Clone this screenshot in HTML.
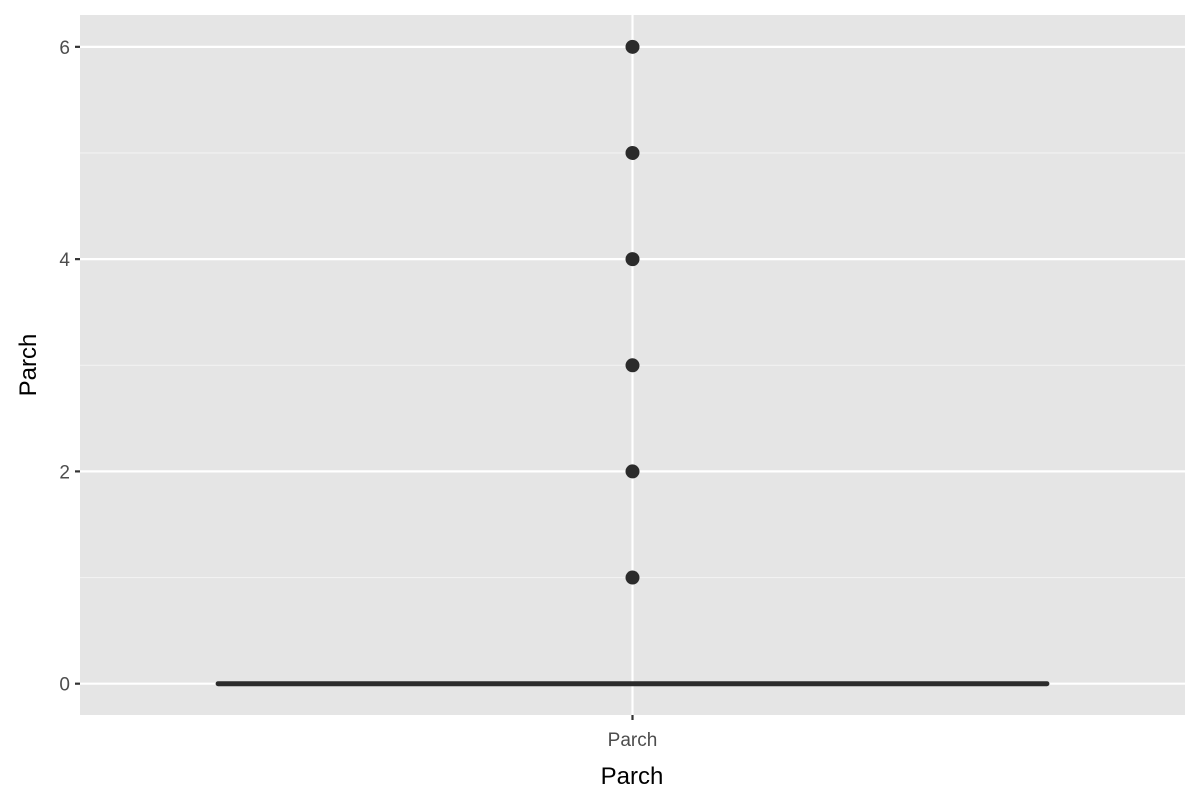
<!DOCTYPE html>
<html><head><meta charset="utf-8"><style>
body{margin:0;background:#fff;}
svg{display:block;font-family:"Liberation Sans",sans-serif;}
</style></head><body>
<svg id="chart" width="1200" height="800"></svg>
<script>
const categories = ["Parch"];
const quartiles = [[0,0,0,0,0]]; // min,q1,median,q3,max
const outliers = [[1,2,3,4,5,6]];
const yTicks = [0,2,4,6];
const yMinor = [1,3,5];

const NS="http://www.w3.org/2000/svg";
const svg=document.getElementById('chart');
const P={l:80,r:1185,t:15,b:715};
const yMin=-0.295,yMax=6.3;
function y(v){return P.b-(v-yMin)/(yMax-yMin)*(P.b-P.t);}
const xLo=0.4,xHi=1.6;
function x(i){return P.l+((i+1)-xLo)/(xHi-xLo)*(P.r-P.l);}
const unit=(P.r-P.l)/(xHi-xLo);
function mk(t,a,name){const e=document.createElementNS(NS,t);for(const k in a)e.setAttribute(k,a[k]);


svg.appendChild(e);return e;}
mk('rect',{x:P.l,y:P.t,width:P.r-P.l,height:P.b-P.t,fill:'#e5e5e5'},'panel-background');
yMinor.forEach(v=>mk('line',{x1:P.l,x2:P.r,y1:y(v),y2:y(v),stroke:'#f2f2f2','stroke-width':1.1},'minor-gridline'));
yTicks.forEach(v=>{
 mk('line',{x1:P.l,x2:P.r,y1:y(v),y2:y(v),stroke:'#fff','stroke-width':2.2},'major-gridline');
 mk('line',{x1:P.l-5,x2:P.l,y1:y(v),y2:y(v),stroke:'#333','stroke-width':2.2},'y-tick');
 const t=mk('text',{x:P.l-10,y:y(v)+7,'text-anchor':'end','font-size':19,fill:'#4d4d4d'},'y-tick-label');t.textContent=v;
});
categories.forEach((c,i)=>{
 const cx=x(i);
 mk('line',{x1:cx,x2:cx,y1:P.t,y2:P.b,stroke:'#fff','stroke-width':2.2},'x-gridline');
 mk('line',{x1:cx,x2:cx,y1:P.b,y2:P.b+5,stroke:'#333','stroke-width':2.2},'x-tick');
 const t=mk('text',{x:cx,y:746,'text-anchor':'middle','font-size':19,fill:'#4d4d4d'},'x-tick-label');t.textContent=c;
 const q=quartiles[i];const hw=unit*0.45;
 mk('line',{x1:cx,x2:cx,y1:y(q[0]),y2:y(q[1]),stroke:'#333','stroke-width':2},'whisker-low');
 mk('line',{x1:cx,x2:cx,y1:y(q[3]),y2:y(q[4]),stroke:'#333','stroke-width':2},'whisker-high');
 mk('rect',{x:cx-hw,y:y(q[3]),width:2*hw,height:Math.max(0,y(q[1])-y(q[3])),fill:'#fff',stroke:'#333','stroke-width':2},'box');
 mk('line',{x1:cx-hw,x2:cx+hw,y1:y(q[2]),y2:y(q[2]),stroke:'#2b2b2b','stroke-width':5,'stroke-linecap':'round'},'median-line');
 outliers[i].forEach(o=>mk('circle',{cx:cx,cy:y(o),r:7,fill:'#2b2b2b'},'outlier-point'));
});
let t=mk('text',{x:632,y:784,'text-anchor':'middle','font-size':24,fill:'#000'},'x-axis-title');t.textContent='Parch';
t=mk('text',{x:0,y:0,transform:'translate(36,365) rotate(-90)','text-anchor':'middle','font-size':24,fill:'#000'},'y-axis-title');t.textContent='Parch';
</script>
</body></html>
